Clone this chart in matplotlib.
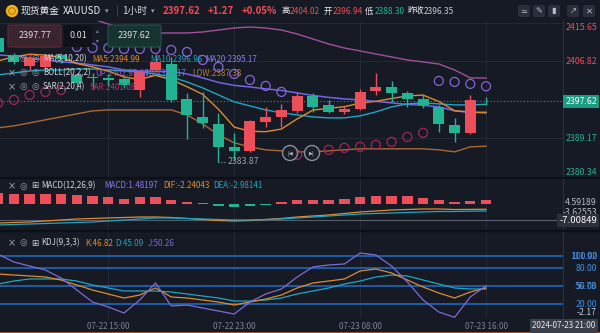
import numpy as np
import matplotlib
matplotlib.use("Agg")
import matplotlib.pyplot as plt
from matplotlib.patches import FancyBboxPatch, Circle

plt.rcParams['font.family'] = ['Noto Sans CJK SC', 'DejaVu Sans']

W, H = 600, 333

# XAUUSD hourly candles, 07-22 08:00 .. 07-23 16:00
opens = [2412.20, 2408.24, 2405.73, 2405.50, 2408.24, 2403.67, 2403.10, 2402.90, 2402.76, 2400.25, 2404.81,
         2406.20, 2398.19, 2394.08, 2392.48, 2387.23, 2386.32, 2392.94, 2394.08, 2395.45, 2398.88, 2396.82,
         2395.22, 2395.91, 2400.02, 2400.93, 2399.56, 2398.19, 2396.36, 2392.25, 2390.43, 2397.73]
highs = [2412.80, 2408.70, 2408.69, 2408.50, 2408.69, 2404.13, 2404.10, 2403.90, 2403.30, 2404.81, 2408.50,
         2407.78, 2399.56, 2399.79, 2394.99, 2390.43, 2393.40, 2396.36, 2397.05, 2399.79, 2399.56, 2397.96,
         2396.59, 2400.47, 2404.02, 2402.30, 2400.02, 2399.10, 2396.82, 2393.85, 2399.10, 2398.60]
lows = [2408.20, 2406.20, 2404.81, 2405.00, 2406.41, 2400.25, 2400.70, 2401.20, 2400.70, 2398.65, 2404.36,
        2397.51, 2389.06, 2391.57, 2383.87, 2384.26, 2386.09, 2391.80, 2391.80, 2394.99, 2395.22, 2394.99,
        2394.77, 2395.68, 2399.10, 2397.51, 2396.36, 2396.14, 2390.66, 2388.30, 2390.20, 2396.80]
closes = [2409.00, 2406.64, 2407.55, 2408.00, 2407.32, 2401.84, 2402.90, 2402.60, 2401.39, 2404.36, 2406.64,
          2397.96, 2394.54, 2392.71, 2387.23, 2386.32, 2393.17, 2394.08, 2395.68, 2398.88, 2396.36, 2395.22,
          2395.91, 2399.79, 2400.93, 2399.56, 2398.19, 2396.82, 2392.48, 2390.43, 2397.96, 2397.62]

ma5 = [2406.90, 2407.80, 2408.40, 2408.20, 2407.70, 2406.27, 2405.52, 2404.53, 2403.21, 2402.62, 2403.58,
       2402.59, 2400.98, 2399.24, 2395.82, 2391.75, 2390.79, 2390.70, 2391.30, 2393.63, 2395.63, 2396.04,
       2396.41, 2397.23, 2397.64, 2398.28, 2398.88, 2399.06, 2397.60, 2395.50, 2395.18, 2394.99]
ma10 = [2403.67, 2404.13, 2404.58, 2404.81, 2404.81, 2405.04, 2405.04, 2404.81, 2404.58, 2404.36, 2403.90,
        2403.21, 2402.07, 2400.70, 2399.10, 2397.51, 2396.59, 2395.68, 2394.99, 2394.54, 2394.08, 2393.85,
        2393.85, 2394.31, 2395.22, 2396.36, 2397.05, 2397.28, 2397.05, 2396.82, 2396.82, 2396.96]
boll_up = [2424.90, 2423.99, 2422.39, 2420.79, 2419.20, 2418.05, 2416.46, 2415.31, 2413.94, 2413.49, 2413.26,
           2413.26, 2413.26, 2413.49, 2413.94, 2414.40, 2414.63, 2414.40, 2413.94, 2413.03, 2411.89, 2410.75,
           2409.83, 2409.15, 2408.46, 2407.78, 2407.09, 2406.64, 2406.18, 2404.81, 2402.99, 2402.95]
boll_mid = [2408.24, 2408.01, 2407.55, 2407.10, 2406.64, 2406.41, 2405.96, 2405.50, 2404.81, 2404.59, 2404.47,
            2404.47, 2403.90, 2402.99, 2401.96, 2401.28, 2400.93, 2400.48, 2400.13, 2399.56, 2398.99, 2398.54,
            2398.19, 2397.97, 2397.62, 2397.28, 2396.94, 2396.71, 2396.37, 2395.45, 2395.11, 2395.17]
boll_low = [2391.57, 2392.03, 2392.71, 2393.40, 2394.08, 2394.77, 2395.45, 2395.68, 2395.68, 2395.68, 2395.68,
            2395.68, 2394.54, 2392.48, 2389.97, 2388.15, 2387.23, 2386.55, 2386.32, 2386.09, 2386.09, 2386.32,
            2386.55, 2386.78, 2386.78, 2386.78, 2386.78, 2386.78, 2386.55, 2386.09, 2387.23, 2387.38]
sar = [2397.28, 2397.96, 2399.10, 2399.79, 2400.25, 2410.06, 2409.83, 2409.83, 2409.61, 2409.61, 2409.61,
       2409.38, 2408.92, 2407.09, 2405.50, 2403.90, 2402.53, 2401.16, 2399.79, 2385.41, 2385.86, 2386.55,
       2387.00, 2387.23, 2387.69, 2388.37, 2389.51, 2390.43, 2402.30, 2402.07, 2401.62, 2401.08]

macd_hist = [4.59189, 4.40, 4.30, 4.25, 4.20, 4.00, 3.40, 2.75, 2.10, 2.75, 2.95, 1.50, 0.65, 0.30, -1.05, -1.27,
             -0.85, -0.42, 0.65, 1.70, 1.70, 1.70, 1.90, 2.75, 3.20, 3.20, 3.20, 2.35, 1.70, 0.65, 1.05, 1.48197]
dif = [-8.08, -7.86, -7.65, -7.23, -6.80, -6.38, -6.16, -5.95, -5.74, -5.53, -5.53, -5.74, -6.16, -6.59, -7.01,
       -7.23, -7.01, -6.59, -6.16, -5.53, -5.10, -4.68, -4.04, -3.40, -2.98, -2.55, -2.34, -2.13, -2.13, -2.34,
       -2.30, -2.24043]
dea = [-8.93, -8.71, -8.50, -8.29, -8.08, -7.86, -7.65, -7.23, -6.80, -6.38, -5.95, -5.95, -6.16, -6.38, -6.59,
       -6.80, -6.80, -6.59, -6.38, -5.95, -5.53, -5.10, -4.68, -4.25, -4.04, -3.83, -3.61, -3.40, -3.19, -3.19,
       -3.05, -2.98141]

k_line = [70.0, 68.3, 66.7, 65.0, 60.0, 51.7, 43.3, 36.7, 30.0, 35.0, 46.7, 31.7, 30.0, 26.7, 23.3, 18.3, 23.3,
          28.3, 35.0, 46.7, 55.0, 58.3, 61.7, 75.0, 78.3, 71.7, 60.0, 48.3, 38.3, 30.0, 40.0, 46.82]
d_line = [53.3, 58.3, 61.7, 61.7, 61.7, 58.3, 51.7, 46.7, 41.7, 41.7, 41.7, 40.0, 36.7, 33.3, 30.0, 25.0, 25.0,
          26.7, 30.0, 36.7, 41.7, 46.7, 53.3, 58.3, 65.0, 68.3, 66.7, 60.0, 53.3, 46.7, 45.0, 45.09]
j_line = [103.0, 90.0, 83.3, 76.7, 63.3, 43.3, 23.3, 15.0, 5.0, 26.7, 55.0, 16.7, 18.3, 13.3, 8.3, 3.3, 23.3,
          36.7, 45.0, 65.0, 81.7, 85.0, 86.7, 105.0, 101.7, 83.3, 56.7, 26.7, 6.7, -2.17, 31.7, 50.26]

tick_pos = [7, 15, 23, 31]
tick_labels = ['07-22 15:00', '07-22 23:00', '07-23 08:00', '07-23 16:00']
price_ticks = [2415.65, 2406.82, 2389.17, 2380.34]
last_price = 2397.62
kdj_levels = [100, 80, 50, 20]
macd_cross = -7.00849

BG = '#161a25'
GRID = '#232835'
RED = '#ec4f5a'
GREEN = '#22b393'
C_MA5 = '#e08a2e'
C_MA10 = '#1fa6c2'
C_MID = '#6e66e6'
C_UP = '#a0509c'
C_LOW = '#a86a32'
C_SAR_HI = '#8466d4'
C_SAR_LO = '#a3245a'
C_J = '#7f6ad8'
C_LEVEL = '#1f6fc8'
TXT = '#d2d5db'
ICON = '#9aa0aa'

x = np.arange(len(closes))
XL = (0.12, 35.89)
RX = 597 / 563  # right edge of the price labels, in axes units

fig = plt.figure(figsize=(W / 100, H / 100), dpi=100, facecolor=BG)


def panel(top, bottom):
    a = fig.add_axes([0, 1 - bottom / H, 563 / W, (bottom - top) / H])
    a.set_facecolor(BG)
    a.set_xlim(*XL)
    for s in ['top', 'left', 'bottom']:
        a.spines[s].set_visible(False)
    a.spines['right'].set_color('#2c313d')
    a.set_xticks(tick_pos)
    a.tick_params(length=0, labelleft=False, labelbottom=False)
    a.grid(axis='x', color=GRID, lw=0.8)
    a.set_axisbelow(True)
    return a


ax = panel(21, 177)
ax_macd = panel(179, 230)
ax_kdj = panel(232, 318)

# ---- price panel ----
ax.set_ylim(2380.38, 2416.0)
ax.set_yticks(price_ticks)
ax.grid(axis='y', color=GRID, lw=0.8)

o = np.array(opens)
c = np.array(closes)
cols = np.where(c > o, RED, GREEN)
ax.vlines(x, lows, highs, colors=cols, lw=1, zorder=3)
ax.bar(x, np.maximum(np.abs(c - o), 0.1), bottom=np.minimum(o, c), width=0.7, color=cols, zorder=3)

ax.plot(x, boll_up, color=C_UP, lw=1, zorder=2)
ax.plot(x, boll_low, color=C_LOW, lw=1, zorder=2)
ax.plot(x, boll_mid, color=C_MID, lw=1.1, zorder=2)
ax.plot(x, ma10, color=C_MA10, lw=1, zorder=2)
ax.plot(x, ma5, color=C_MA5, lw=1, zorder=2)

s = np.array(sar)
hi = s > c
ax.scatter(x[hi], s[hi], s=42, facecolors='none', edgecolors=C_SAR_HI, lw=0.9, zorder=4)
ax.scatter(x[~hi], s[~hi], s=42, facecolors='none', edgecolors=C_SAR_LO, lw=0.9, zorder=4)

ax.axhline(last_price, color='#1fa58a', lw=0.8, ls=(0, (1, 2)), zorder=2)

lo_i = int(np.argmin(lows))
ax.plot([lo_i, lo_i + 0.5], [lows[lo_i], lows[lo_i]], color='#8d929c', lw=0.8, ls=':')
ax.text(lo_i + 0.55, lows[lo_i], f'{lows[lo_i]:.2f}', color='#9ca1ab', fontsize=6.3, va='center')

ytr = ax.get_yaxis_transform()
for p in price_ticks:
    va = 'top' if p == max(price_ticks) else ('bottom' if p == min(price_ticks) else 'center')
    ax.text(RX, p, f'{p:.2f}', transform=ytr, ha='right', va=va, fontsize=6.3,
            color=RED if p > last_price else GREEN, clip_on=False)
ax.text(RX, last_price, f'{last_price:.2f}', transform=ytr, ha='right', va='center', fontsize=6.3,
        color='white', clip_on=False,
        bbox=dict(boxstyle='square,pad=0.25', fc='#1a9c80', ec='none'))

# ---- MACD panel ----
ax_macd.set_ylim(-11.05, 10.6)
h = np.array(macd_hist)
ax_macd.bar(x, h, width=0.66, color=np.where(h >= 0, RED, GREEN), zorder=3)
ax_macd.plot(x, dif, color=C_MA5, lw=0.9, zorder=4)
ax_macd.plot(x, dea, color=C_MA10, lw=0.9, zorder=4)
ax_macd.axhline(macd_cross, color='#585d69', lw=0.8, zorder=2)
mtr = ax_macd.get_yaxis_transform()
ax_macd.text(RX, 0.549, f'{max(macd_hist):.5f}', transform=ax_macd.transAxes, ha='right', va='center',
             fontsize=6.3, color='#b8bcc4', clip_on=False)
ax_macd.text(RX, 0.35, '-3.62553', transform=ax_macd.transAxes, ha='right', va='center',
             fontsize=6.3, color='#b8bcc4', clip_on=False)
ax_macd.text(RX, macd_cross, f'{macd_cross:.5f}', transform=mtr, ha='right', va='center', fontsize=6.8,
             color='white', clip_on=False, bbox=dict(boxstyle='square,pad=0.2', fc='#2b303b', ec='none'))

# ---- KDJ panel ----
ax_kdj.set_ylim(-3.33, 140)
for lv in kdj_levels:
    ax_kdj.axhline(lv, color=C_LEVEL, lw=1.1, zorder=2)
ax_kdj.plot(x, d_line, color=C_MA10, lw=0.9, zorder=3)
ax_kdj.plot(x, k_line, color=C_MA5, lw=0.9, zorder=3)
ax_kdj.plot(x, j_line, color=C_J, lw=0.9, zorder=3)
ax_kdj.set_xticks(tick_pos, tick_labels)
ax_kdj.tick_params(labelbottom=True, labelsize=5.8, labelcolor='#7d8290', pad=3)
ktr = ax_kdj.get_yaxis_transform()
for lv in kdj_levels:
    ax_kdj.text(RX, lv, f'{lv:.2f}', transform=ktr, ha='right', va='center', fontsize=6.3,
                color='#3f8fe6', clip_on=False)
ax_kdj.text(RX, 100, '111.92', transform=ktr, ha='right', va='center', fontsize=6.3,
            color='#5fa2ea', alpha=0.7, clip_on=False)
ax_kdj.text(RX, 50, '56.78', transform=ktr, ha='right', va='center', fontsize=6.3,
            color='#5fa2ea', alpha=0.7, clip_on=False)
ax_kdj.text(RX, min(j_line), f'{min(j_line):.2f}', transform=ktr, ha='right', va='bottom', fontsize=6.3,
            color='#c8ccd2', clip_on=False)

# ---- header, legends and toolbar drawn in pixel space ----
ov = fig.add_axes([0, 0, 1, 1], zorder=10)
ov.set_xlim(0, W)
ov.set_ylim(H, 0)
ov.axis('off')
ov.patch.set_alpha(0)


def t(px, py, txt, col, size=5.8, **kw):
    ov.text(px, py, txt, color=col, fontsize=size, va='center', ha='left', **kw)


ov.plot([0, W], [178, 178], color='#0c0f15', lw=1.6)
ov.plot([0, W], [231, 231], color='#0c0f15', lw=1.6)
ov.plot([0, W], [332.5, 332.5], color='#c0622c', lw=1.2)

ov.add_patch(Circle((12, 11), 6.2, fc='#f0b31e', ec='none'))
ov.add_patch(Circle((12, 11), 3.2, fc='none', ec='#b97a0c', lw=0.8))
t(21, 11, '现货黄金', '#eceef2', 7)
t(63, 11, 'XAUUSD', '#eceef2', 7)
t(105, 11, '▾', '#9aa0aa', 5)
t(116, 11, '|', '#4a4f5b', 7)
t(122, 11, '1小时', '#d5d8de', 7)
t(151, 11, '▾', '#9aa0aa', 5)
t(163, 11, '2397.62', RED, 7, fontweight='bold')
t(208, 11, '+1.27', RED, 7, fontweight='bold')
t(242, 11, '+0.05%', RED, 7, fontweight='bold')
t(281, 11, '高', '#eceef2', 6)
t(290, 11, '2404.02', RED, 6)
t(324, 11, '开', '#eceef2', 6)
t(333, 11, '2396.94', RED, 6)
t(365, 11, '低', '#eceef2', 6)
t(375, 11, '2388.30', GREEN, 6)
t(407, 11, '昨收', '#eceef2', 6)
t(424, 11, '2396.35', '#c5c9d0', 6)

for bx, glyph in zip([518, 533, 548, 567, 583], ['≃', '✎', '▮', '↗', '✕']):
    ov.add_patch(FancyBboxPatch((bx, 5), 12, 12, boxstyle='round,pad=0,rounding_size=2',
                                fc='#2a2f3b', ec='none'))
    ov.text(bx + 6, 11, glyph, color='#b9bdc5', fontsize=6, ha='center', va='center',
            family=['DejaVu Sans'])

# order ticket boxes
ov.add_patch(FancyBboxPatch((8, 25), 53, 22, boxstyle='round,pad=0,rounding_size=2',
                            fc='#3a2430', ec='#5e2c36', lw=0.8))
ov.text(34.5, 36, '2397.77', color='#dcdce0', fontsize=6.5, ha='center', va='center')
ov.add_patch(FancyBboxPatch((64, 25), 28, 22, boxstyle='round,pad=0,rounding_size=2',
                            fc='#0f1219', ec='none'))
ov.text(78, 36, '0.01', color='#dcdce0', fontsize=6.5, ha='center', va='center')
ov.text(97, 31, '▴', color='#7d828c', fontsize=4, ha='center', va='center', family=['DejaVu Sans'])
ov.text(97, 41, '▾', color='#7d828c', fontsize=4, ha='center', va='center', family=['DejaVu Sans'])
ov.add_patch(FancyBboxPatch((108, 25), 53, 22, boxstyle='round,pad=0,rounding_size=2',
                            fc='#17332f', ec='#1f5549', lw=0.8))
ov.text(134.5, 36, '2397.62', color='#dcdce0', fontsize=6.5, ha='center', va='center')

# indicator legends
for ry in [59, 73, 87]:
    t(8, ry, '×', ICON, 7, family=['DejaVu Sans'])
    t(19, ry, '◎', ICON, 6.3, family=['DejaVu Sans'])
    t(31, ry, '◎', ICON, 6.3, family=['DejaVu Sans'])
t(43, 59, 'MA(5,10,20)', TXT)
t(92, 59, 'MA5:2394.99', C_MA5)
t(150, 59, 'MA10:2396.96', C_MA10)
t(205, 59, 'MA20:2395.17', '#8a7cf0')
t(43, 73, 'BOLL(20,2,2)', TXT)
t(95, 73, 'UP:2402.95', '#9a5ac8')
t(140, 73, 'MID:2395.17', '#7d6cf0')
t(192, 73, 'LOW:2387.38', '#c27a38')
t(43, 87, 'SAR(2,20,4)', TXT)
t(90, 87, 'SAR:2401.08', '#c2306e')

for ry, name, parts in [(186, 'MACD(12,26,9)', [(104, 'MACD:1.48197', '#8a78ee'),
                                                (163, 'DIF:-2.24043', C_MA5),
                                                (213, 'DEA:-2.98141', C_MA10)]),
                        (243, 'KDJ(9,3,3)', [(85, 'K:46.82', C_MA5),
                                             (115, 'D:45.09', C_MA10),
                                             (148, 'J:50.26', C_J)])]:
    t(8, ry, '×', ICON, 7, family=['DejaVu Sans'])
    t(19, ry, '◎', ICON, 6.3, family=['DejaVu Sans'])
    t(31, ry, '⊞', '#c8ccd2', 6.3, family=['DejaVu Sans'])
    t(41, ry, name, TXT)
    for px_, txt, col in parts:
        t(px_, ry, txt, col)

# replay buttons
for bx, glyph in [(290, '|◀'), (312, '▶|')]:
    ov.add_patch(Circle((bx, 153), 7.5, fc='#1b1f2a', ec='#8a8f9a', lw=1))
    ov.text(bx, 153, glyph, color='#b0b4bc', fontsize=3.8, ha='center', va='center', family=['DejaVu Sans'])

ov.text(564, 326, '2024-07-23 21:00', color='#e8e8ea', fontsize=5.8, ha='center', va='center',
        bbox=dict(boxstyle='square,pad=0.3', fc='#3a3f4a', ec='none'))

fig.savefig('out.png', dpi=100, facecolor=BG)
